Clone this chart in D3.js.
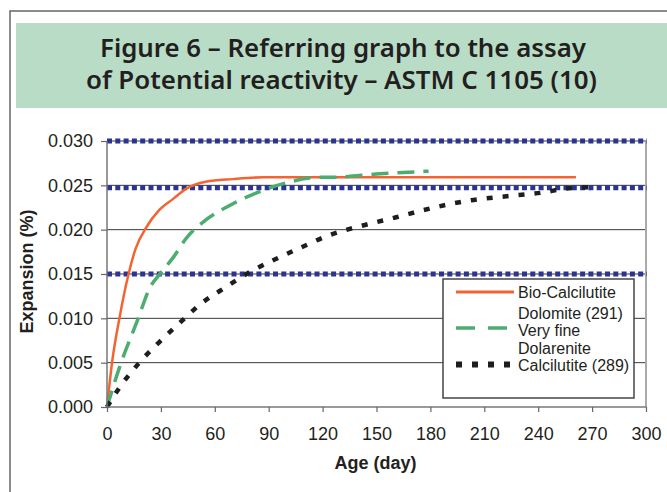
<!DOCTYPE html>
<html>
<head>
<meta charset="utf-8">
<script src="https://cdn.jsdelivr.net/npm/d3@7"></script>
<style>
  html, body { margin: 0; padding: 0; background: #fff; }
  svg { display: block; }
</style>
</head>
<body>
<svg id="chart" width="667" height="492"></svg>
<script>
// ---------- data ----------
const titleLines = ["Figure 6 \u2013 Referring graph to the assay", "of Potential reactivity \u2013 ASTM C 1105 (10)"];
const xTicks = [0, 30, 60, 90, 120, 150, 180, 210, 240, 270, 300];
const yTicks = [0, 0.005, 0.010, 0.015, 0.020, 0.025, 0.030];
const limitLines = [0.030, 0.025, 0.015];

const bioDays = [0, 3, 7, 12, 16, 22, 29, 37, 44, 55, 70, 87, 120, 180, 261];
const bioVals = [0, 0.0053, 0.0101, 0.0150, 0.0179, 0.0203, 0.0222, 0.0235, 0.0246, 0.0254, 0.0257, 0.0259, 0.0259, 0.0259, 0.0259];

const dolDays = [0, 7, 17, 24, 29, 37, 44, 55, 68, 85, 102, 117, 124, 152, 179];
const dolVals = [0, 0.0045, 0.0098, 0.0135, 0.0149, 0.0169, 0.0190, 0.0211, 0.0227, 0.0243, 0.0254, 0.0259, 0.0259, 0.0263, 0.0266];

const calDays = [0, 7, 18, 29, 40, 52, 66, 81, 92, 107, 124, 143, 161, 180, 202, 224, 243, 254, 271];
const calVals = [0, 0.0022, 0.0050, 0.0073, 0.0094, 0.0116, 0.0135, 0.0154, 0.0165, 0.0179, 0.0194, 0.0205, 0.0214, 0.0224, 0.0233, 0.0238, 0.0242, 0.0246, 0.0248];

const legendLabels = [["Bio-Calcilutite", "Dolomite (291)"], ["Very fine", "Dolarenite"], ["Calcilutite (289)"]];

// ---------- setup ----------
const svg = d3.select("#chart");
const TXT = "#231f20";
const F = "'Liberation Sans', Arial, Helvetica, sans-serif";

const series = [
  { days: bioDays, vals: bioVals, color: "#f26532", width: 2.5, dash: null },
  { days: dolDays, vals: dolVals, color: "#4dac70", width: 3.5, dash: "17,9" },
  { days: calDays, vals: calVals, color: "#1e1e1e", width: 4.5, dash: "6,10" }
];

// outer frame
svg.append("path")
  .attr("d", "M10,492 L10,11 L667,11")
  .attr("fill", "none").attr("stroke", "#666").attr("stroke-width", 1.5);

// title box
svg.append("rect").attr("x", 16).attr("y", 23).attr("width", 651).attr("height", 85)
  .attr("fill", "#b9dcc7");
const titleGeom = [{ x: 100, w: 486, y: 57 }, { x: 86, w: 511, y: 88.5 }];
titleLines.forEach((t, i) => {
  svg.append("text")
    .attr("x", titleGeom[i].x).attr("y", titleGeom[i].y)
    .attr("textLength", titleGeom[i].w).attr("lengthAdjust", "spacingAndGlyphs")
    .attr("font-family", "'Noto Sans', 'Open Sans', sans-serif")
    .attr("font-weight", 600).attr("font-size", 25.5)
    .attr("fill", TXT).text(t);
});

// scales
const x = d3.scaleLinear().domain([0, 300]).range([107, 646]);
const y = d3.scaleLinear().domain([0, 0.03]).range([407, 141]);

// grid lines
svg.append("g").selectAll("line").data(yTicks.slice(1)).join("line")
  .attr("x1", x(0)).attr("x2", x(300))
  .attr("y1", d => y(d)).attr("y2", d => y(d))
  .attr("stroke", "#3a3a3a").attr("stroke-width", 1);

// right border
svg.append("line").attr("x1", x(300)).attr("x2", x(300)).attr("y1", y(0.03)).attr("y2", y(0))
  .attr("stroke", "#aaa").attr("stroke-width", 2);

// limit lines
svg.append("g").selectAll("line").data(limitLines).join("line")
  .attr("x1", x(0)).attr("x2", x(300) + 1)
  .attr("y1", d => y(d) + (d === 0.025 ? 2.5 : 0)).attr("y2", d => y(d) + (d === 0.025 ? 2.5 : 0))
  .attr("stroke", "#2b3591").attr("stroke-width", 5)
  .attr("stroke-dasharray", "5,3.3");

// curves
const line = d3.line().x(d => x(d[0])).y(d => y(d[1])).curve(d3.curveMonotoneX);
series.forEach(s => {
  const pts = s.days.map((d, i) => [d, s.vals[i]]);
  svg.append("path").datum(pts)
    .attr("d", line)
    .attr("fill", "none").attr("stroke", s.color).attr("stroke-width", s.width)
    .attr("stroke-dasharray", s.dash);
});

// axes
const xAxis = svg.append("g").attr("transform", `translate(0,${y(0)})`)
  .call(d3.axisBottom(x).tickValues(xTicks).tickSize(5).tickPadding(15).tickFormat(d3.format("d")));
const yAxis = svg.append("g").attr("transform", `translate(${x(0)},0)`)
  .call(d3.axisLeft(y).tickValues(yTicks).tickSize(6).tickPadding(8).tickFormat(d3.format(".3f")));
[xAxis, yAxis].forEach(a => {
  a.select(".domain").attr("stroke", "#777").attr("stroke-width", 1.5);
  a.selectAll(".tick line").attr("stroke", "#666").attr("stroke-width", 1.2);
  a.selectAll(".tick text").attr("font-family", F).attr("font-size", 18).attr("fill", TXT);
});
xAxis.select(".domain").attr("d", `M${x(0)},0H${x(300)}`);
yAxis.select(".domain").attr("d", `M0,${y(0)}V${y(0.03)}`);

// axis titles
svg.append("text").attr("x", 375.5).attr("y", 469)
  .attr("text-anchor", "middle").attr("font-family", F).attr("font-weight", "bold")
  .attr("font-size", 18).attr("fill", TXT).text("Age (day)");
svg.append("text").attr("transform", "translate(33,271.5) rotate(-90)")
  .attr("text-anchor", "middle").attr("font-family", F).attr("font-weight", "bold")
  .attr("font-size", 18).attr("fill", TXT).text("Expansion (%)");

// legend
const lg = svg.append("g");
lg.append("rect").attr("x", 443).attr("y", 279).attr("width", 191).attr("height", 119)
  .attr("fill", "#fff").attr("stroke", "#444").attr("stroke-width", 1.5);
const legendRows = [
  { sampleY: 292, baselines: [298, 318.5] },
  { sampleY: 328, baselines: [336, 354] },
  { sampleY: 364.5, baselines: [371] }
];
const legendSample = [
  { width: 3, dash: null },
  { width: 3.5, dash: "19,13" },
  { width: 6, dash: "6,10" }
];
series.forEach((s, i) => {
  lg.append("line").attr("x1", 456).attr("x2", 514)
    .attr("y1", legendRows[i].sampleY).attr("y2", legendRows[i].sampleY)
    .attr("stroke", s.color).attr("stroke-width", legendSample[i].width)
    .attr("stroke-dasharray", legendSample[i].dash);
  legendLabels[i].forEach((t, j) => {
    lg.append("text").attr("x", 518).attr("y", legendRows[i].baselines[j])
      .attr("font-family", F).attr("font-size", 16).attr("fill", TXT).text(t);
  });
});
</script>
</body>
</html>
